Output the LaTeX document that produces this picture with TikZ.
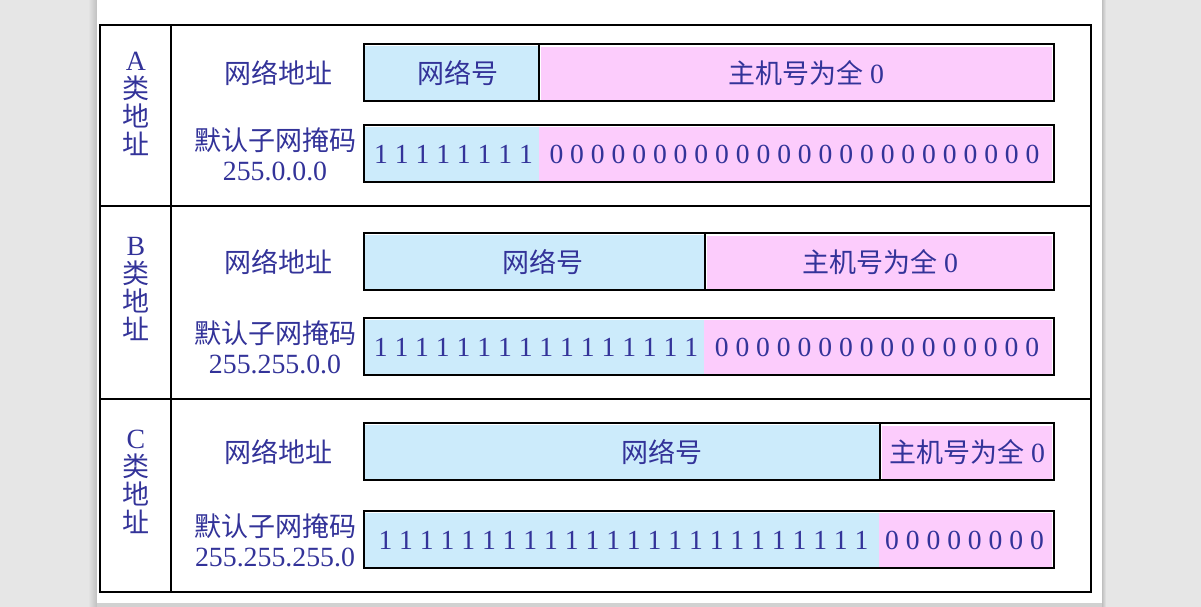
\documentclass[tikz,border=0pt]{standalone}
\usepackage{fontspec}
\setmainfont{Liberation Serif}[Scale=1.03]
\newfontfamily\cjk{Noto Sans CJK SC}
\definecolor{netblue}{HTML}{CCEBFB}
\definecolor{hostpink}{HTML}{FCCCFC}
\definecolor{inkblue}{HTML}{333399}
\definecolor{pagegrey}{HTML}{E6E6E6}

\begin{document}
\begin{tikzpicture}[x=1pt,y=-1pt,
  txt/.style={text=inkblue,font=\fontsize{27}{28}\selectfont,inner sep=0pt,align=center},
  bits/.style={txt,font=\fontsize{26.8}{28}\selectfont},
  netpart/.style={fill=netblue},
  hostpart/.style={fill=hostpink},
  frame/.style={draw=black,line width=1.2pt}]
\useasboundingbox (0,0) rectangle (1201,607);
% page and its shadow
\fill[pagegrey] (0,0) rectangle (1201,607);
\shade[left color=pagegrey,right color=black!25] (88,0) rectangle (97,606);
\shade[left color=black!25,right color=pagegrey] (1102,0) rectangle (1106,606);
\fill[black!18] (97,603) rectangle (1102,607);
\fill[white] (97,0) rectangle (1102,603);
% table
\draw[frame] (100,25) rectangle (1091,592);
\draw[frame] (100,206) -- (1091,206);
\draw[frame] (100,399) -- (1091,399);
\draw[frame] (171,25) -- (171,592);
\foreach \cls/\cy/\by/\my/\nd/\md/\nx/\hx/\ones/\zeros/\mask in {
  A/104/44/125/539/539/458/806/{1 1 1 1 1 1 1 1}/{0 0 0 0 0 0 0 0 0 0 0 0 0 0 0 0 0 0 0 0 0 0 0 0}/{255.0.0.0},
  B/289/233/318/705/704/543/880/{1 1 1 1 1 1 1 1 1 1 1 1 1 1 1 1}/{0 0 0 0 0 0 0 0 0 0 0 0 0 0 0 0}/{255.255.0.0},
  C/482/423/511/880/879/662/967/{1 1 1 1 1 1 1 1 1 1 1 1 1 1 1 1 1 1 1 1 1 1 1 1}/{0 0 0 0 0 0 0 0}/{255.255.255.0}}
{
  \node[txt] (cls\cls) at (136,\cy) {\cls\\{\cjk 类}\\{\cjk 地}\\{\cjk 址}};
  % network address
  \node[txt] (addr\cls) at (278,\by+29) {{\cjk 网络地址}};
  \fill[netpart] (365,\by+2) rectangle (\nd,\by+56);
  \fill[hostpart] (\nd+2,\by+3) rectangle (1052,\by+56);
  \draw[frame] (364,\by) rectangle (1054,\by+57);
  \draw[frame] (\nd,\by) -- (\nd,\by+57);
  \node[txt] (netno\cls) at (\nx,\by+29) {{\cjk 网络号}};
  \node[txt] (hostno\cls) at (\hx,\by+29) {{\cjk 主机号为全} 0};
  % default mask
  \node[txt,font=\fontsize{27}{30}\selectfont] (mlbl\cls) at (275,\my+29) {{\cjk 默认子网掩码}\\\mask};
  \fill[netpart] (365,\my+2) rectangle (\md,\my+56);
  \fill[hostpart] (\md,\my+2) rectangle (1052,\my+56);
  \draw[frame] (364,\my) rectangle (1054,\my+57);
  \node[bits] (ones\cls) at ({(364+\md)/2+2},\my+29) {\ones};
  \node[bits] (zeros\cls) at ({(\md+1054)/2-2},\my+29) {\zeros};
}
\end{tikzpicture}
\end{document}
